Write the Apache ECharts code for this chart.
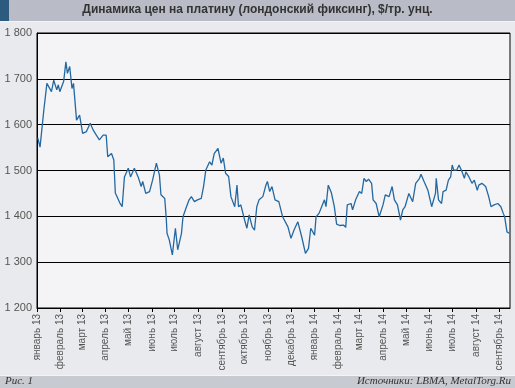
<!DOCTYPE html>
<html>
<head>
<meta charset="utf-8">
<script src="https://cdn.jsdelivr.net/npm/echarts@6/dist/echarts.min.js"></script>
<style>
html,body{margin:0;padding:0;background:#e9eaed;}
#chart{width:515px;height:388px;}
</style>
</head>
<body>
<div id="chart"></div>
<script>
const titleText = 'Динамика цен на платину (лондонский фиксинг), $/тр. унц.';
const figLabel = 'Рис. 1';
const sourceText = 'Источники: LBMA, MetalTorg.Ru';

const monthLabels = ['январь 13','февраль 13','март 13','апрель 13','май 13','июнь 13','июль 13','август 13','сентябрь 13','октябрь 13','ноябрь 13','декабрь 13',
  'январь 14','февраль 14','март 14','апрель 14','май 14','июнь 14','июль 14','август 14','сентябрь 14'];
const monthStarts = ['2013-01-01','2013-02-01','2013-03-01','2013-04-01','2013-05-01','2013-06-01','2013-07-01','2013-08-01','2013-09-01','2013-10-01','2013-11-01','2013-12-01',
  '2014-01-01','2014-02-01','2014-03-01','2014-04-01','2014-05-01','2014-06-01','2014-07-01','2014-08-01','2014-09-01'];

const dates = [
'2013-01-02','2013-01-05','2013-01-07','2013-01-10','2013-01-14','2013-01-20','2013-01-23','2013-01-27','2013-01-29','2013-01-31',
'2013-02-05','2013-02-08','2013-02-10','2013-02-13','2013-02-16','2013-02-18','2013-02-22','2013-02-26',
'2013-03-02','2013-03-07','2013-03-12','2013-03-16','2013-03-20','2013-03-24','2013-03-29',
'2013-04-02','2013-04-04','2013-04-09','2013-04-12','2013-04-14','2013-04-20','2013-04-23','2013-04-26',
'2013-05-01','2013-05-04','2013-05-09','2013-05-14','2013-05-18','2013-05-20','2013-05-24','2013-05-29',
'2013-06-02','2013-06-07','2013-06-11','2013-06-13','2013-06-18','2013-06-20','2013-06-21','2013-06-24','2013-06-28',
'2013-07-02','2013-07-05','2013-07-10','2013-07-12','2013-07-16','2013-07-20','2013-07-23','2013-07-27','2013-07-31',
'2013-08-05','2013-08-08','2013-08-11','2013-08-16','2013-08-19','2013-08-22','2013-08-27','2013-08-31',
'2013-09-03','2013-09-06','2013-09-10','2013-09-13','2013-09-18','2013-09-21','2013-09-23','2013-09-26',
'2013-10-01','2013-10-04','2013-10-07','2013-10-11','2013-10-14','2013-10-17','2013-10-20','2013-10-25','2013-10-29','2013-10-31',
'2013-11-03','2013-11-06','2013-11-10','2013-11-15','2013-11-20','2013-11-27',
'2013-12-01','2013-12-05','2013-12-10','2013-12-15','2013-12-20','2013-12-24','2013-12-27',
'2014-01-01','2014-01-03','2014-01-07','2014-01-12','2014-01-14','2014-01-16','2014-01-19','2014-01-23','2014-01-27','2014-01-30',
'2014-02-03','2014-02-08','2014-02-11','2014-02-13','2014-02-18','2014-02-20','2014-02-24',
'2014-03-01','2014-03-04','2014-03-07','2014-03-10','2014-03-13','2014-03-17','2014-03-19','2014-03-23','2014-03-27',
'2014-04-01','2014-04-04','2014-04-09','2014-04-13','2014-04-16','2014-04-20','2014-04-24','2014-04-27','2014-04-30',
'2014-05-05','2014-05-10','2014-05-14','2014-05-19','2014-05-21','2014-05-25','2014-05-30',
'2014-06-04','2014-06-09','2014-06-10','2014-06-13','2014-06-17','2014-06-19','2014-06-23','2014-06-26','2014-06-29',
'2014-07-01','2014-07-03','2014-07-07','2014-07-10','2014-07-14','2014-07-17','2014-07-19','2014-07-23','2014-07-27','2014-07-30',
'2014-08-03','2014-08-05','2014-08-09','2014-08-14','2014-08-18','2014-08-21','2014-08-25','2014-08-30',
'2014-09-03','2014-09-06','2014-09-08','2014-09-11','2014-09-14'
];
const prices = [
1571,1551,1552,1632,1690,1672,1697,1676,1687,1672,
1694,1737,1712,1727,1679,1690,1610,1621,
1581,1585,1603,1588,1577,1567,1577,
1577,1530,1537,1523,1451,1429,1421,1486,
1505,1486,1505,1486,1465,1476,1450,1454,
1479,1516,1490,1447,1439,1395,1363,1348,1316,
1374,1327,1363,1399,1418,1436,1443,1432,1436,
1439,1465,1501,1519,1512,1537,1548,1516,
1527,1494,1487,1443,1421,1468,1421,1425,
1392,1374,1403,1377,1370,1421,1436,1443,1468,1476,
1454,1465,1436,1432,1399,1377,
1352,1370,1388,1356,1319,1330,1374,
1359,1399,1407,1428,1436,1421,1468,1452,1421,1383,
1380,1381,1376,1425,1428,1414,1436,
1454,1450,1483,1476,1481,1472,1436,1428,1399,
1425,1447,1443,1465,1436,1425,1392,1414,1421,
1450,1432,1472,1483,1492,1476,1457,
1421,1450,1483,1436,1428,1454,1457,1479,1486,
1512,1501,1501,1512,1497,1483,1497,1486,1472,1479,
1457,1468,1472,1465,1443,1421,1425,1428,
1421,1407,1399,1366,1363
];

function toTime(s){ const p = s.split('-').map(Number); return Date.UTC(p[0], p[1]-1, p[2]); }
const monthTimes = monthStarts.map(toTime);
const seriesData = dates.map((d,i)=>[toTime(d), prices[i]]);

const chart = echarts.init(document.getElementById('chart'), null, {renderer:'canvas'});
chart.setOption({
  backgroundColor:'#e9eaed',
  animation:false,
  grid:{left:37,right:5,top:33,bottom:80,show:true,backgroundColor:'#f4f4f6',borderColor:'#000',borderWidth:1},
  graphic:[
    {type:'rect',left:0,top:0,shape:{width:515,height:21},style:{fill:'#b9bcc6'}},
    {type:'rect',left:0,top:0,shape:{width:9,height:21},style:{fill:'#2d5b7d'}},
    {type:'rect',left:0,top:21,shape:{width:515,height:1},style:{fill:'#f4f4f6'}},
    {type:'text',left:'center',top:4,style:{text:titleText,font:'bold 12px "Liberation Sans", Arial, sans-serif',fill:'#333'}},
    {type:'rect',left:0,top:375,shape:{width:515,height:1},style:{fill:'#f4f4f6'}},
    {type:'rect',left:0,top:376,shape:{width:515,height:12},style:{fill:'#c8cad2'}},
    {type:'text',left:5,top:376,style:{text:figLabel,font:'italic 11px "Liberation Serif", "DejaVu Serif", serif',fill:'#333'}},
    {type:'text',right:4,top:376,style:{text:sourceText,font:'italic 11px "Liberation Serif", "DejaVu Serif", serif',fill:'#333'}}
  ],
  xAxis:{
    type:'value',
    min:toTime('2013-01-01'),
    max:toTime('2014-09-15'),
    axisLine:{show:true,lineStyle:{color:'#000',width:1}},
    axisTick:{show:true,length:4,lineStyle:{color:'#000'},customValues:monthTimes},
    axisLabel:{
      customValues:monthTimes,
      rotate:90,
      margin:6,
      fontSize:10,
      fontFamily:'"Liberation Sans", Arial, sans-serif',
      color:'#555',
      formatter:function(v){ const i = monthTimes.indexOf(v); return i>=0 ? monthLabels[i] : ''; }
    },
    splitLine:{show:false}
  },
  yAxis:{
    type:'value',
    min:1200,max:1800,interval:100,
    axisLine:{show:true,lineStyle:{color:'#000',width:1}},
    axisTick:{show:false},
    axisLabel:{
      margin:5,fontSize:11,color:'#555',fontFamily:'"Liberation Sans", Arial, sans-serif',
      formatter:function(v){ return String(v).replace(/\B(?=(\d{3})+(?!\d))/g,' '); }
    },
    splitLine:{show:true,lineStyle:{color:'#000',width:1}}
  },
  series:[{
    type:'line',
    data:seriesData,
    showSymbol:false,
    symbol:'none',
    lineStyle:{color:'#2468a2',width:1.3},
    z:3
  }]
});
</script>
</body>
</html>
